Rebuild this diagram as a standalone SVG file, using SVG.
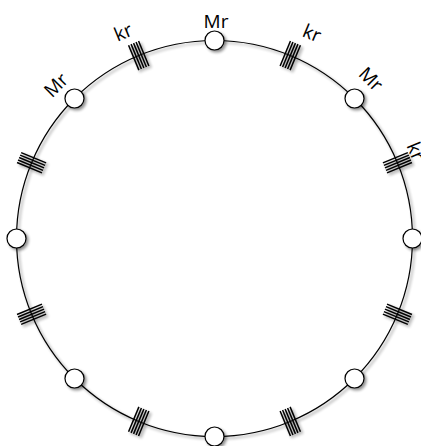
<svg xmlns="http://www.w3.org/2000/svg" xmlns:xlink="http://www.w3.org/1999/xlink" width="421" height="446" viewBox="0 0 421 446">
  <style>
    .arc { fill: none; stroke: #000; stroke-width: 1.2; }
    .spr line { stroke: #000; stroke-width: 1.5; }
    .node circle { fill: #fff; stroke: #000; stroke-width: 1.2; }
    .lbl { font-family: "Open Sans", "Liberation Sans", sans-serif; font-size: 19px; fill: #000; text-anchor: middle; }
  </style>
  <defs>
    <filter id="sh" x="-50%" y="-50%" width="200%" height="200%">
      <feGaussianBlur in="SourceAlpha" stdDeviation="1.6"/>
      <feOffset dx="2" dy="2" result="o"/>
      <feComponentTransfer><feFuncA type="linear" slope="0.45"/></feComponentTransfer>
      <feMerge><feMergeNode/><feMergeNode in="SourceGraphic"/></feMerge>
    </filter>
    <g id="spring" class="spr">
      <line x1="-5.4" y1="-13.5" x2="-5.4" y2="13.5"/>
      <line x1="-2.7" y1="-13.5" x2="-2.7" y2="13.5"/>
      <line x1="0" y1="-13.5" x2="0" y2="13.5"/>
      <line x1="2.7" y1="-13.5" x2="2.7" y2="13.5"/>
      <line x1="5.4" y1="-13.5" x2="5.4" y2="13.5"/>
    </g>
  </defs>
  <rect width="421" height="446" fill="#fff"/>
  <g id="connectors" filter="url(#sh)">
    <path class="arc" d="M214.5 40.5 A198 198 0 0 1 354.51 98.49"/>
    <path class="arc" d="M354.51 98.49 A198 198 0 0 1 412.5 238.5"/>
    <path class="arc" d="M412.5 238.5 A198 198 0 0 1 354.51 378.51"/>
    <path class="arc" d="M354.51 378.51 A198 198 0 0 1 214.5 436.5"/>
    <path class="arc" d="M214.5 436.5 A198 198 0 0 1 74.49 378.51"/>
    <path class="arc" d="M74.49 378.51 A198 198 0 0 1 16.5 238.5"/>
    <path class="arc" d="M16.5 238.5 A198 198 0 0 1 74.49 98.49"/>
    <path class="arc" d="M74.49 98.49 A198 198 0 0 1 214.5 40.5"/>
    <use xlink:href="#spring" transform="rotate(22.5 214.5 238.5) translate(214.5 40.5)"/>
    <use xlink:href="#spring" transform="rotate(67.5 214.5 238.5) translate(214.5 40.5)"/>
    <use xlink:href="#spring" transform="rotate(112.5 214.5 238.5) translate(214.5 40.5)"/>
    <use xlink:href="#spring" transform="rotate(157.5 214.5 238.5) translate(214.5 40.5)"/>
    <use xlink:href="#spring" transform="rotate(202.5 214.5 238.5) translate(214.5 40.5)"/>
    <use xlink:href="#spring" transform="rotate(247.5 214.5 238.5) translate(214.5 40.5)"/>
    <use xlink:href="#spring" transform="rotate(292.5 214.5 238.5) translate(214.5 40.5)"/>
    <use xlink:href="#spring" transform="rotate(337.5 214.5 238.5) translate(214.5 40.5)"/>
  </g>
  <g id="node-top" class="node" filter="url(#sh)"><circle cx="214.5" cy="40.5" r="9.5"/></g>
  <g id="node-top-right" class="node" filter="url(#sh)"><circle cx="354.51" cy="98.49" r="9.5"/></g>
  <g id="node-right" class="node" filter="url(#sh)"><circle cx="412.5" cy="238.5" r="9.5"/></g>
  <g id="node-bottom-right" class="node" filter="url(#sh)"><circle cx="354.51" cy="378.51" r="9.5"/></g>
  <g id="node-bottom" class="node" filter="url(#sh)"><circle cx="214.5" cy="436.5" r="9.5"/></g>
  <g id="node-bottom-left" class="node" filter="url(#sh)"><circle cx="74.49" cy="378.51" r="9.5"/></g>
  <g id="node-left" class="node" filter="url(#sh)"><circle cx="16.5" cy="238.5" r="9.5"/></g>
  <g id="node-top-left" class="node" filter="url(#sh)"><circle cx="74.49" cy="98.49" r="9.5"/></g>
  <g id="labels">
    <text class="lbl" transform="translate(216 21) rotate(0)" y="6.8">Mr</text>
    <text class="lbl" transform="translate(56 85) rotate(-45)" y="6.8">Mr</text>
    <text class="lbl" transform="translate(123 32) rotate(-22.5)" y="6.8">kr</text>
    <text class="lbl" transform="translate(312 33) rotate(22.5)" y="6.8">kr</text>
    <text class="lbl" transform="translate(371 79) rotate(45)" y="6.8">Mr</text>
    <text class="lbl" transform="translate(416 151) rotate(67.5)" y="6.8">kr</text>
  </g>
</svg>
